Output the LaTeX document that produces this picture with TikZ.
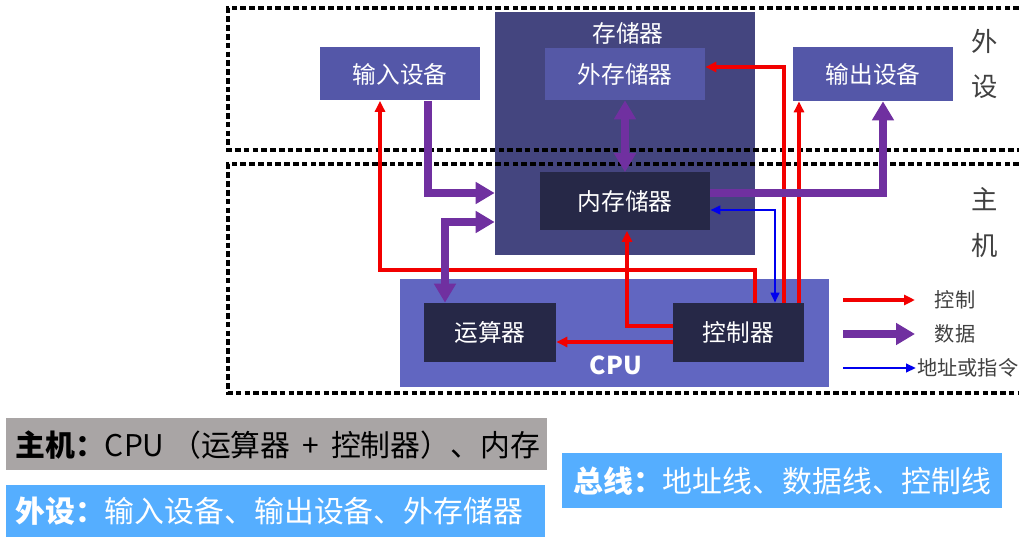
\documentclass[tikz,border=0pt]{standalone}
\usepackage{fontspec}
\setmainfont{Noto Sans CJK SC}
\usetikzlibrary{arrows.meta,calc}

\definecolor{memblue}{HTML}{44457F}
\definecolor{extblue}{HTML}{5558A6}
\definecolor{devblue}{HTML}{5457A8}
\definecolor{darknavy}{HTML}{262847}
\definecolor{cpublue}{HTML}{6166C1}
\definecolor{ctlred}{HTML}{F20000}
\definecolor{datpurple}{HTML}{7030A0}
\definecolor{adrblue}{HTML}{0000EE}
\definecolor{hostgray}{HTML}{A9A5A5}
\definecolor{periblue}{HTML}{55AEFF}
\definecolor{sidegray}{HTML}{404040}

\def\pxu{0.02cm}
\def\boxfont{\fontsize{13.5}{15}\selectfont}
\def\sumfont{\fontsize{17}{20}\selectfont}

\begin{document}
\begin{tikzpicture}[x=0.02cm, y=-0.02cm,
  box/.style={rectangle, inner sep=0pt, text=white, font=\boxfont},
  area/.style={black, line width=2pt, dash pattern=on 3.2pt off 1.8pt},
  ctl/.style={draw=ctlred, line width=2pt, -{Triangle[length=0.22cm,width=0.2cm]}},
  dat/.style={draw=datpurple, line width=4.2pt, -{Triangle[length=0.38cm,width=0.42cm]}},
  datboth/.style={dat, {Triangle[length=0.38cm,width=0.42cm]}-{Triangle[length=0.38cm,width=0.42cm]}},
  adr/.style={draw=adrblue, line width=1.6pt, {Triangle[length=0.2cm,width=0.17cm]}-{Triangle[length=0.2cm,width=0.17cm]}},
  side/.style={text=sidegray, inner sep=0pt, font=\fontsize{15}{17}\selectfont},
  legend/.style={text=sidegray, inner sep=0pt, font=\fontsize{11.5}{13}\selectfont},
  sumtext/.style={anchor=west, inner sep=0pt, font=\sumfont}
]
\useasboundingbox (0,0) rectangle (1019,537);

% storage
\node[box, fill=memblue, minimum width=260*\pxu, minimum height=243*\pxu] (mem) at (625,133.5) {};
\node[box] (memtitle) at (628,33) {存储器};
\node[box, fill=extblue, minimum width=160*\pxu, minimum height=52*\pxu] (ext) at (625,74) {外存储器};
\node[box, fill=darknavy, minimum width=170*\pxu, minimum height=58*\pxu] (int) at (625,201.5) {内存储器};

% devices
\node[box, fill=devblue, minimum width=160*\pxu, minimum height=53*\pxu] (indev) at (400,74) {输入设备};
\node[box, fill=devblue, minimum width=160*\pxu, minimum height=54*\pxu] (outdev) at (873,74) {输出设备};

% cpu
\node[box, fill=cpublue, minimum width=429*\pxu, minimum height=108*\pxu] (cpu) at (614.5,333) {};
\node[box, font=\fontsize{14}{16}\selectfont\bfseries] (cpulabel) at (616,365) {CPU};
\node[box, fill=darknavy, minimum width=132*\pxu, minimum height=59*\pxu] (alu) at (490,332.5) {运算器};
\node[box, fill=darknavy, minimum width=131*\pxu, minimum height=59*\pxu] (cu) at (738.5,332.5) {控制器};

% areas
\draw[area] (1019,8) -- (228,8) -- (228,150) -- (1019,150);
\draw[area] (1019,164) -- (228,164) -- (228,393) -- (1019,393);
\node[side] (sideA) at (985,41) {外};
\node[side] (sideB) at (985,87) {设};
\node[side] (sideC) at (985,199) {主};
\node[side] (sideD) at (985,245) {机};

\coordinate (datA) at (428,193);
\coordinate (datB) at (445,222);
\coordinate (datD) at (883,193);
\coordinate (ctlA) at (755,270);
\coordinate (ctlAx) at (380,270);
\coordinate (ctlB) at (627,326);
\coordinate (ctlC) at (0,342);
\coordinate (ctlD) at (784,67);
\coordinate (ctlE) at (799,0);
\coordinate (adrA) at (775,210);

% control
\draw[ctl] (cu.north -| ctlA) |- (ctlAx) -- (indev.south -| ctlAx);
\draw[ctl] (cu.west |- ctlB) -| (int.south -| ctlB);
\draw[ctl] (cu.west |- ctlC) -- (alu.east |- ctlC);
\draw[ctl] (cu.north -| ctlD) |- (ext.east |- ctlD);
\draw[ctl] (cu.north -| ctlE) -- (outdev.south -| ctlE);

% address
\draw[adr] (int.east |- adrA) -| (cu.north -| adrA);

% data
\draw[dat] (indev.south -| datA) |- (mem.west |- datA);
\draw[datboth] (alu.north -| datB) |- (mem.west |- datB);
\draw[datboth] (ext.south) -- (int.north);
\draw[dat] (int.east |- datD) -| (outdev.south -| datD);

% legend
\coordinate (legA0) at (843,300);
\coordinate (legA1) at (915,300);
\coordinate (legB0) at (843,334);
\coordinate (legB1) at (915,334);
\coordinate (legC0) at (843,368);
\coordinate (legC1) at (916,368);
\draw[ctl] (legA0) -- (legA1);
\draw[dat] (legB0) -- (legB1);
\draw[adr, -{Triangle[length=0.2cm,width=0.17cm]}] (legC0) -- (legC1);
\node[legend] (legctl) at (955,300) {控制};
\node[legend] (legdat) at (955,334) {数据};
\node[legend, anchor=west] (legadr) at (917,368) {地址或指令};

% summary
\node[fill=hostgray, inner sep=0pt, minimum width=541*\pxu, minimum height=52*\pxu] (host) at (276.5,444) {};
\node[sumtext, text=black] (hosttext) at (15,445) {\textbf{主机：}CPU （运算器\hspace{0.4em}+\hspace{0.4em}控制器）、内存};
\node[fill=periblue, inner sep=0pt, minimum width=539*\pxu, minimum height=52*\pxu] (peri) at (275.5,511) {};
\node[sumtext, text=white] (peritext) at (15,511) {\textbf{外设：}输入设备、输出设备、外存储器};
\node[fill=periblue, inner sep=0pt, minimum width=440*\pxu, minimum height=55*\pxu] (bus) at (782,480.5) {};
\node[sumtext, text=white] (bustext) at (573,481) {\textbf{总线：}地址线、数据线、控制线};
\end{tikzpicture}
\end{document}
